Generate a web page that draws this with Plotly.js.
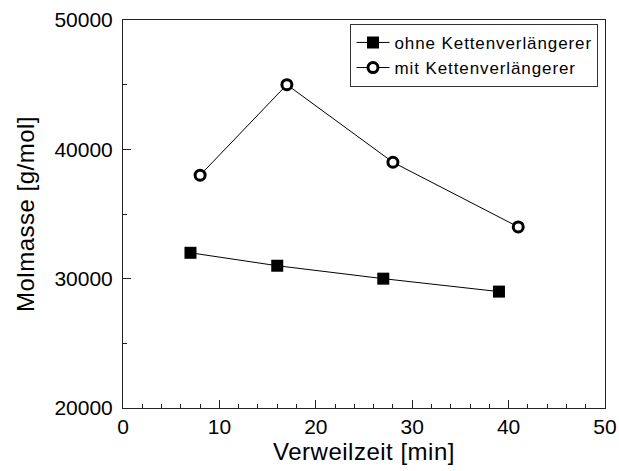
<!DOCTYPE html>
<html>
<head>
<meta charset="utf-8">
<script src="https://cdn.plot.ly/plotly-3.0.1.min.js"></script>
<style>
  html, body { margin: 0; padding: 0; background: #fff; }
  #chart { width: 619px; height: 471px; }
  /* slightly wider lettering for legend and axis titles */
  .legendtext { letter-spacing: 0.9px; }
  .xtitle, .ytitle { letter-spacing: 0.5px; }
</style>
</head>
<body>
<div id="chart"></div>
<script>
// Verweilzeit [min] und Molmasse [g/mol] je Versuchsreihe
const zeitOhne = [7, 16, 27, 39];
const molmasseOhne = [32000, 31000, 30000, 29000];
const zeitMit = [8, 17, 28, 41];
const molmasseMit = [38000, 45000, 39000, 34000];

const nameOhne = 'ohne Kettenverlängerer';
const nameMit = 'mit Kettenverlängerer';

const FONT = 'Liberation Sans, Arial, Helvetica, sans-serif';

const traces = [
  {
    x: zeitOhne, y: molmasseOhne, name: nameOhne,
    type: 'scatter', mode: 'lines+markers',
    line: { color: '#000', width: 1 },
    marker: { symbol: 'square', size: 12, color: '#000' }
  },
  {
    x: zeitMit, y: molmasseMit, name: nameMit,
    type: 'scatter', mode: 'lines+markers',
    line: { color: '#000', width: 1 },
    marker: { symbol: 'circle', size: 10, color: '#fff', line: { color: '#000', width: 3 } }
  }
];

const axisCommon = {
  showline: true, linecolor: '#222', linewidth: 1, mirror: true,
  showgrid: false, zeroline: false,
  ticks: 'inside', ticklen: 8, tickwidth: 1, tickcolor: '#222',
  tickfont: { family: FONT, size: 21, color: '#000' }
};

const layout = {
  width: 619, height: 471,
  margin: { l: 123, r: 14, t: 20, b: 63 },
  paper_bgcolor: '#fff', plot_bgcolor: '#fff',
  font: { family: FONT, color: '#000' },
  showlegend: true,
  legend: {
    x: 0.9865, y: 0.99, xanchor: 'right', yanchor: 'top',
    bgcolor: '#fff', bordercolor: '#333', borderwidth: 1,
    font: { family: FONT, size: 17, color: '#000' },
    itemwidth: 33,
    tracegroupgap: 0
  },
  xaxis: Object.assign({}, axisCommon, {
    range: [0, 50], tick0: 0, dtick: 10, tickformat: 'd',
    minor: { dtick: 2, ticks: 'inside', ticklen: 4, tickcolor: '#222' },
    title: { text: 'Verweilzeit [min]', font: { family: FONT, size: 24 }, standoff: 4 }
  }),
  yaxis: Object.assign({}, axisCommon, {
    range: [20000, 50000], tick0: 20000, dtick: 10000, tickformat: 'd',
    ticklabelstandoff: 5,
    minor: { dtick: 5000, ticks: 'inside', ticklen: 4, tickcolor: '#222' },
    title: { text: 'Molmasse [g/mol]', font: { family: FONT, size: 24 }, standoff: 12 }
  })
};

Plotly.newPlot('chart', traces, layout, { displayModeBar: false, staticPlot: true });
</script>
</body>
</html>
